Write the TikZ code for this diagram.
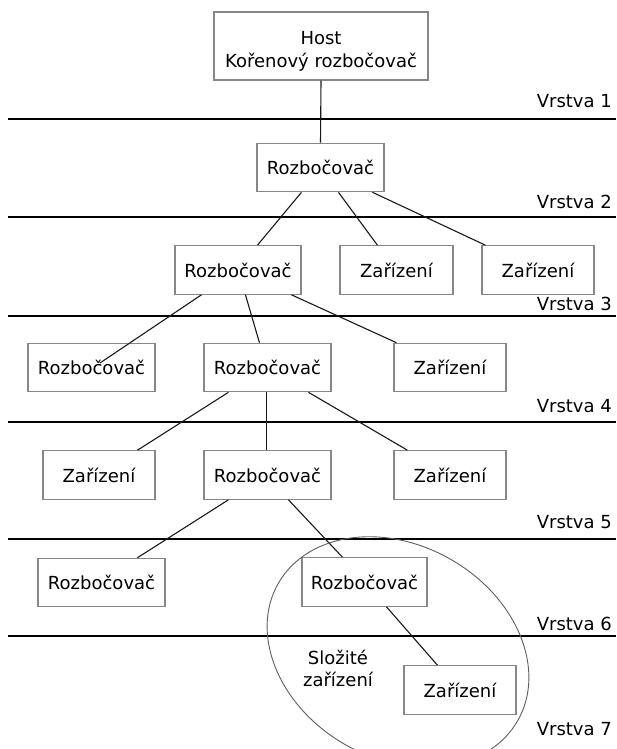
\documentclass[tikz,border=0pt]{standalone}
\usepackage{fontspec}
\setmainfont{DejaVu Sans}
\usetikzlibrary{calc}
\definecolor{boxgray}{RGB}{135,135,135}
\definecolor{linedark}{RGB}{25,25,25}
\definecolor{ellgray}{RGB}{95,95,95}
\tikzset{
  box/.style={draw=boxgray, line width=1.1pt, inner sep=0pt, minimum height=48.5pt, font=\fontsize{18}{23}\selectfont},
  wbig/.style={minimum width=127pt},
  wsmall/.style={minimum width=112pt},
  conn/.style={draw=linedark, line width=1.1pt},
  layer/.style={draw=black, line width=1.4pt},
  lbl/.style={anchor=base east, inner sep=0pt, font=\fontsize{18}{23}\selectfont},
  txt/.style={anchor=base, inner sep=0pt, font=\fontsize{18}{23}\selectfont}
}
\begin{document}
\begin{tikzpicture}[x=1pt,y=-1pt]
\useasboundingbox (0,0) rectangle (616,749);
\clip (0,0) rectangle (616,749);
\fill[white] (0,0) rectangle (616,749);

% layer lines
\foreach \yy in {119,217,316,422,539,636}{
  \draw[layer] (8,\yy) -- (616,\yy);
}
\node[lbl] (v1) at (612,108) {Vrstva 1};
\node[lbl] (v2) at (612,208) {Vrstva 2};
\node[lbl] (v3) at (612,310) {Vrstva 3};
\node[lbl] (v4) at (612,412) {Vrstva 4};
\node[lbl] (v5) at (612,528) {Vrstva 5};
\node[lbl] (v6) at (612,630) {Vrstva 6};
\node[lbl] (v7) at (612,735) {Vrstva 7};

% boxes
\node[box, minimum width=214pt, minimum height=68pt] (host) at (321,46) {};
\node[txt] (hosta) at (321,45) {Host};
\node[txt] (hostb) at (321,68) {Kořenový rozbočovač};
\node[box, wbig] (r2) at (320.5,167.5) {Rozbočovač};
\node[box, minimum width=126pt] (r3) at (238,270) {Rozbočovač};
\node[box, minimum width=113pt] (z3a) at (396.5,270) {Zařízení};
\node[box, wsmall] (z3b) at (538,270) {Zařízení};
\node[box, wbig] (r4a) at (91.5,367.5) {Rozbočovač};
\node[box, wbig] (r4b) at (267.5,367.5) {Rozbočovač};
\node[box, wsmall] (z4) at (450,367.5) {Zařízení};
\node[box, wsmall] (z5a) at (99,475) {Zařízení};
\node[box, wbig] (r5) at (267.5,475) {Rozbočovač};
\node[box, wsmall] (z5b) at (450,475) {Zařízení};
\node[box, wbig] (r6a) at (101.5,582.5) {Rozbočovač};
\node[box, minimum width=125pt] (r6b) at (364.5,582) {Rozbočovač};
\node[box, wsmall] (z7) at (460,690) {Zařízení};

\node[txt] (sl1) at (338,664) {Složité};
\node[txt] (sl2) at (338,686) {zařízení};

% connectors
\draw[conn] (host.south) -- (r2.north);
\draw[conn] ([xshift=45pt]r2.south west) -- ([xshift=83pt]r3.north west);
\draw[conn] ([xshift=82pt]r2.south west) -- ([xshift=38pt]z3a.north west);
\draw[conn] ([xshift=116pt]r2.south west) -- ([xshift=4pt]z3b.north west);
\draw[conn] ([xshift=27pt]r3.south west) -- ([xshift=8.5pt,yshift=4.5pt]r4a.center);
\draw[conn] ([xshift=71pt]r3.south west) -- ([xshift=56pt]r4b.north west);
\draw[conn] ([xshift=117pt]r3.south west) -- ([xshift=3pt]z4.north west);
\draw[conn] ([xshift=25pt]r4b.south west) -- ([xshift=95pt]z5a.north west);
\draw[conn] ([xshift=63pt]r4b.south west) -- ([xshift=63pt]r5.north west);
\draw[conn] ([xshift=105pt]r4b.south west) -- ([xshift=14pt]z5b.north west);
\draw[conn] ([xshift=25pt]r5.south west) -- ([xshift=100pt]r6a.north west);
\draw[conn] ([xshift=85pt]r5.south west) -- ([xshift=41pt]r6b.north west);
\draw[conn] ([xshift=85pt]r6b.south west) -- ([xshift=34pt]z7.north west);

% composite device ellipse
\draw[ellgray, line width=0.9pt, rotate around={-30:(398,652)}] (398,652) ellipse [x radius=138, y radius=106.6];
\end{tikzpicture}
\end{document}
